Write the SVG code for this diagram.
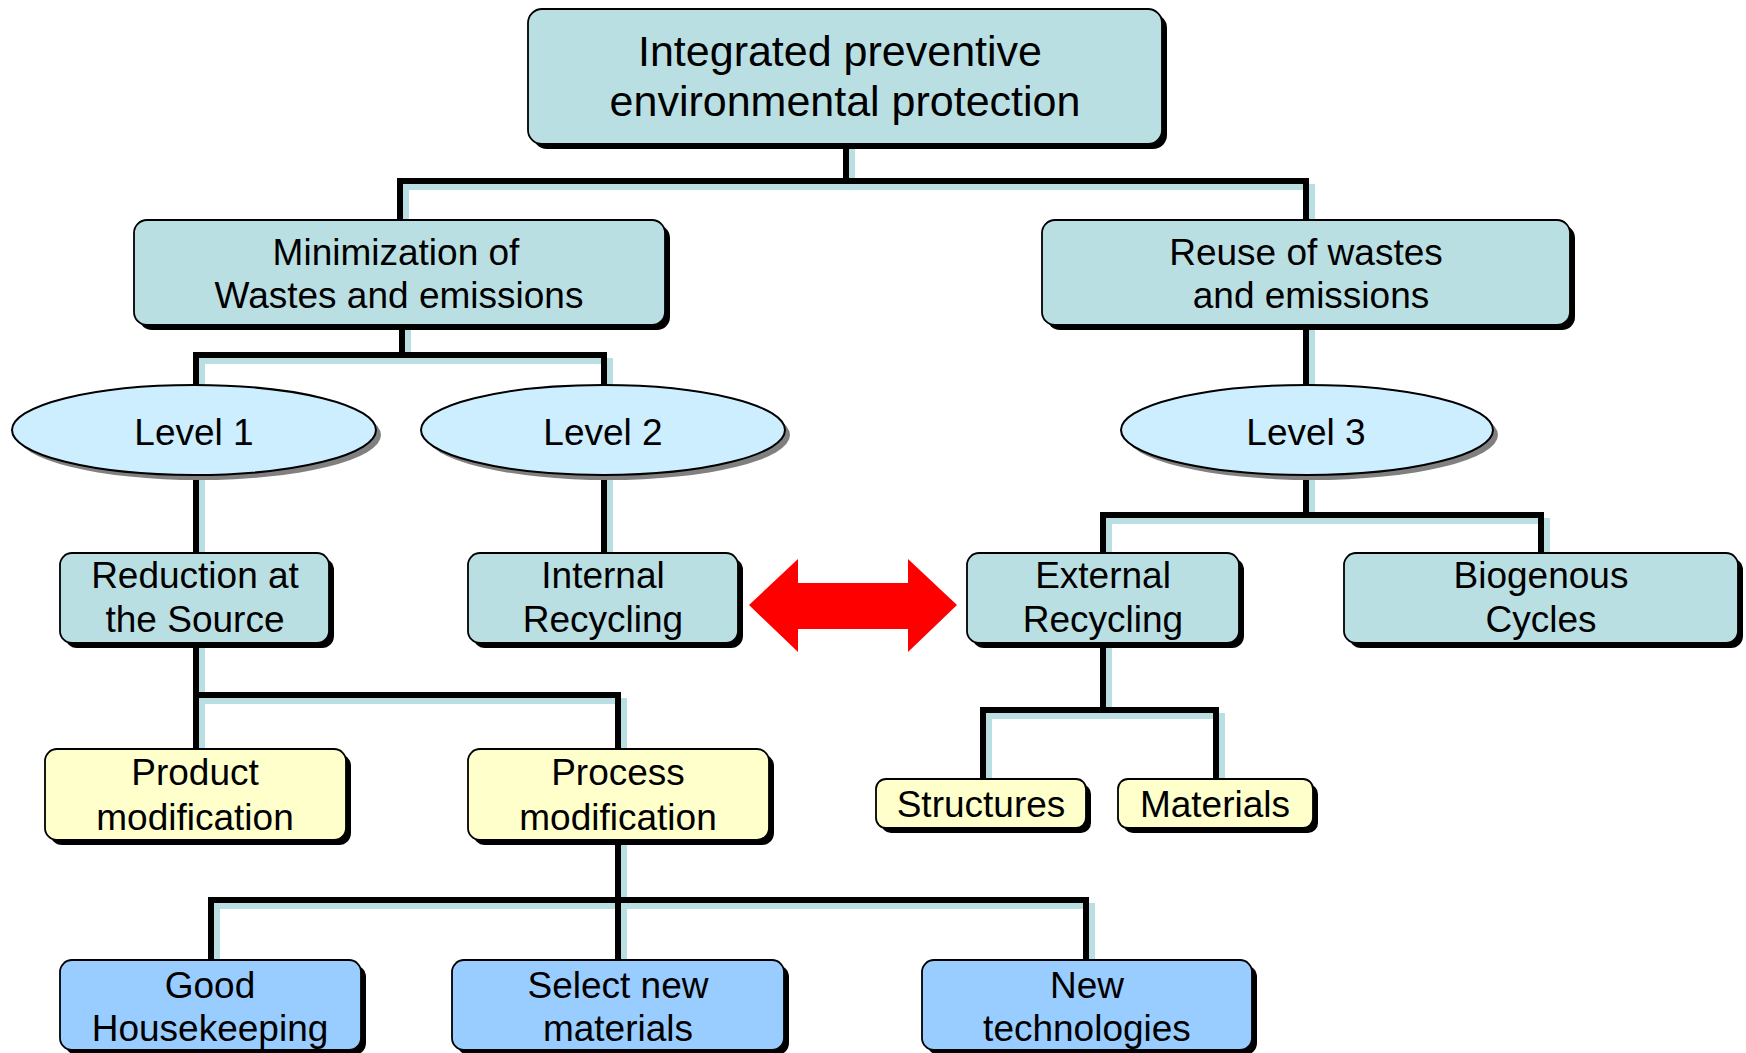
<svg xmlns="http://www.w3.org/2000/svg" width="1746" height="1053" viewBox="0 0 1746 1053">
<style>
  text { font-family: "Liberation Sans", Arial, sans-serif; font-size: 37px; fill: #000; text-anchor: middle; }
  .big { font-size: 43px; }
  .shadow { fill: #000; }
  .teal { fill: #badfe3; stroke: #000; stroke-width: 1.8; }
  .yellow { fill: #ffffcc; stroke: #000; stroke-width: 1.8; }
  .blue { fill: #99ccff; stroke: #000; stroke-width: 1.8; }
  .ell { fill: #cceeff; stroke: #000; stroke-width: 2; }
  .ellshadow { fill: #808080; }
  .wire { fill: none; stroke: #000; stroke-width: 6; stroke-linejoin: miter; }
  .wireshadow { fill: none; stroke: #badfe3; stroke-width: 6; stroke-linejoin: miter; }
</style>
<rect width="1746" height="1053" fill="#fff"/>
<g id="connectors">
  <g class="wireshadow" transform="translate(6,6)">
    <path d="M846,140 V181 M400,225 V181 H1306 V225"/>
    <path d="M402,320 V355 M196,390 V355 H604 V390"/>
    <path d="M1306,320 V390"/>
    <path d="M196,470 V558"/>
    <path d="M604,470 V558"/>
    <path d="M1306,470 V515 M1103,558 V515 H1541 V558"/>
    <path d="M196,640 V754 M196,695 H618 V754"/>
    <path d="M1103,640 V710 M983,784 V710 H1216 V784"/>
    <path d="M618,835 V900 M211,965 V900 H1086 V965 M618,900 V965"/>
  </g>
  <g class="wire">
    <path d="M846,140 V181 M400,225 V181 H1306 V225"/>
    <path d="M402,320 V355 M196,390 V355 H604 V390"/>
    <path d="M1306,320 V390"/>
    <path d="M196,470 V558"/>
    <path d="M604,470 V558"/>
    <path d="M1306,470 V515 M1103,558 V515 H1541 V558"/>
    <path d="M196,640 V754 M196,695 H618 V754"/>
    <path d="M1103,640 V710 M983,784 V710 H1216 V784"/>
    <path d="M618,835 V900 M211,965 V900 H1086 V965 M618,900 V965"/>
  </g>
  <polygon id="double-arrow" fill="#ff0000" points="749,605 798,559 798,583 908,583 908,559 957,605 908,652 908,629 798,629 798,652"/>
</g>

<g id="node-top">
  <rect class="shadow" x="533" y="14" width="634" height="135" rx="14"/>
  <rect class="teal" x="528" y="9" width="634" height="135" rx="14"/>
  <text class="big" x="840" y="66">Integrated preventive</text>
  <text class="big" x="845" y="116">environmental protection</text>
</g>
<g id="node-minimization">
  <rect class="shadow" x="139" y="225" width="531" height="105" rx="13"/>
  <rect class="teal" x="134" y="220" width="531" height="105" rx="13"/>
  <text x="396" y="265">Minimization of</text>
  <text x="399" y="308">Wastes and emissions</text>
</g>
<g id="node-reuse">
  <rect class="shadow" x="1047" y="225" width="528" height="105" rx="13"/>
  <rect class="teal" x="1042" y="220" width="528" height="105" rx="13"/>
  <text x="1306" y="265">Reuse of wastes</text>
  <text x="1311" y="308">and emissions</text>
</g>
<g id="node-level1">
  <ellipse class="ellshadow" cx="199" cy="435" rx="182" ry="45"/>
  <ellipse class="ell" cx="194" cy="430" rx="182" ry="45"/>
  <text x="194" y="445">Level 1</text>
</g>
<g id="node-level2">
  <ellipse class="ellshadow" cx="608" cy="435" rx="182" ry="45"/>
  <ellipse class="ell" cx="603" cy="430" rx="182" ry="45"/>
  <text x="603" y="445">Level 2</text>
</g>
<g id="node-level3">
  <ellipse class="ellshadow" cx="1312" cy="435" rx="186" ry="45"/>
  <ellipse class="ell" cx="1307" cy="430" rx="186" ry="45"/>
  <text x="1306" y="445">Level 3</text>
</g>
<g id="node-reduction">
  <rect class="shadow" x="65" y="558" width="269" height="90" rx="12"/>
  <rect class="teal" x="60" y="553" width="269" height="90" rx="12"/>
  <text x="195" y="588">Reduction at</text>
  <text x="195" y="632">the Source</text>
</g>
<g id="node-internal">
  <rect class="shadow" x="473" y="558" width="270" height="90" rx="12"/>
  <rect class="teal" x="468" y="553" width="270" height="90" rx="12"/>
  <text x="603" y="588">Internal</text>
  <text x="603" y="632">Recycling</text>
</g>
<g id="node-external">
  <rect class="shadow" x="972" y="558" width="272" height="90" rx="12"/>
  <rect class="teal" x="967" y="553" width="272" height="90" rx="12"/>
  <text x="1103" y="588">External</text>
  <text x="1103" y="632">Recycling</text>
</g>
<g id="node-biogenous">
  <rect class="shadow" x="1349" y="558" width="394" height="90" rx="12"/>
  <rect class="teal" x="1344" y="553" width="394" height="90" rx="12"/>
  <text x="1541" y="588">Biogenous</text>
  <text x="1541" y="632">Cycles</text>
</g>
<g id="node-product">
  <rect class="shadow" x="50" y="754" width="301" height="91" rx="12"/>
  <rect class="yellow" x="45" y="749" width="301" height="91" rx="12"/>
  <text x="195" y="785">Product</text>
  <text x="195" y="830">modification</text>
</g>
<g id="node-process">
  <rect class="shadow" x="473" y="754" width="301" height="91" rx="12"/>
  <rect class="yellow" x="468" y="749" width="301" height="91" rx="12"/>
  <text x="618" y="785">Process</text>
  <text x="618" y="830">modification</text>
</g>
<g id="node-structures">
  <rect class="shadow" x="881" y="784" width="210" height="49" rx="10"/>
  <rect class="yellow" x="876" y="779" width="210" height="49" rx="10"/>
  <text x="981" y="817">Structures</text>
</g>
<g id="node-materials">
  <rect class="shadow" x="1123" y="784" width="195" height="49" rx="10"/>
  <rect class="yellow" x="1118" y="779" width="195" height="49" rx="10"/>
  <text x="1215" y="817">Materials</text>
</g>
<g id="node-housekeeping">
  <rect class="shadow" x="65" y="965" width="301" height="90" rx="12"/>
  <rect class="blue" x="60" y="960" width="301" height="90" rx="12"/>
  <text x="210" y="998">Good</text>
  <text x="210" y="1041">Housekeeping</text>
</g>
<g id="node-select">
  <rect class="shadow" x="457" y="965" width="332" height="90" rx="12"/>
  <rect class="blue" x="452" y="960" width="332" height="90" rx="12"/>
  <text x="618" y="998">Select new</text>
  <text x="618" y="1041">materials</text>
</g>
<g id="node-newtech">
  <rect class="shadow" x="927" y="965" width="330" height="90" rx="12"/>
  <rect class="blue" x="922" y="960" width="330" height="90" rx="12"/>
  <text x="1087" y="998">New</text>
  <text x="1087" y="1041">technologies</text>
</g>
</svg>
